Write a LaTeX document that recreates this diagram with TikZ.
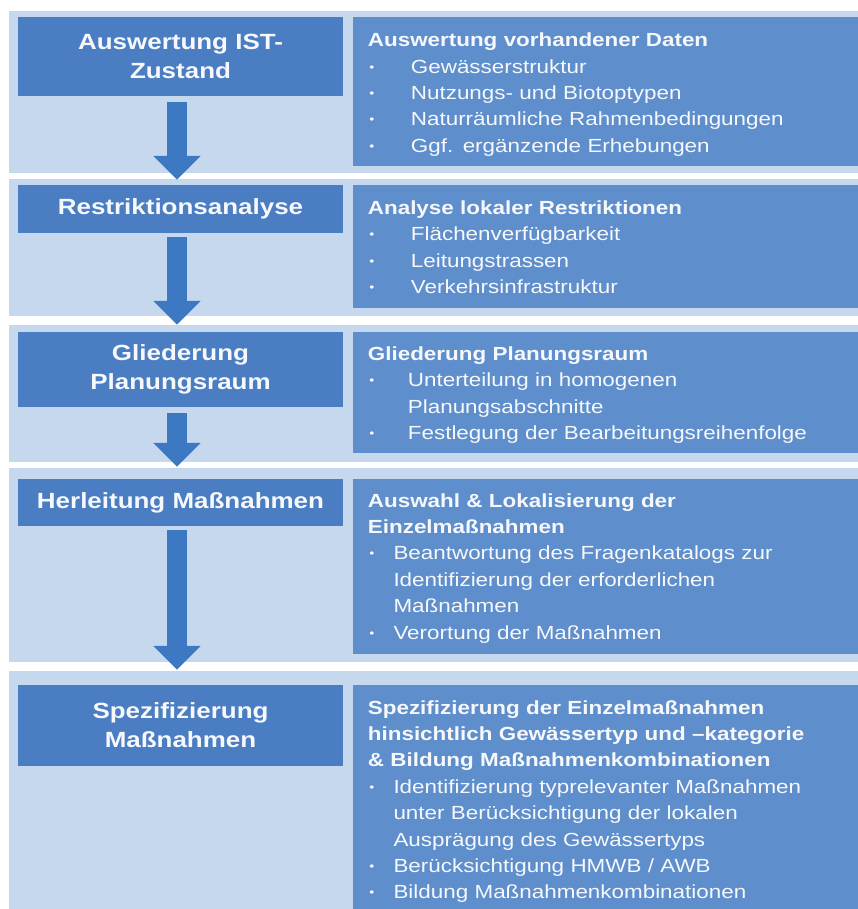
\documentclass[tikz,border=0pt]{standalone}
\usepackage{fontspec}
\setmainfont[FakeStretch=1.18]{Liberation Sans}
\usetikzlibrary{arrows.meta,calc}

\definecolor{bandc}{HTML}{C6D8EE}
\definecolor{lboxc}{HTML}{4A7DC1}
\definecolor{rboxc}{HTML}{5E8ECB}
\definecolor{arrowc}{HTML}{3D79C2}
\definecolor{txtc}{HTML}{F6F8FC}

% bullet and list lines
\newcommand\bul{\raisebox{2pt}{\fontsize{12}{12}\selectfont\char"2022}}
\newcommand\itm[2]{\makebox[#1][l]{\hspace*{1.5pt}\bul}#2}
\newcommand\cont[2]{\hspace*{#1}#2}

\begin{document}
\begin{tikzpicture}[x=1pt,y=-1pt,
  lbox/.style={fill=lboxc, minimum width=325pt, inner sep=0pt, text=txtc,
    align=center, font=\fontsize{22}{29}\selectfont\bfseries},
  rbox/.style={fill=rboxc, anchor=north west, minimum width=505pt, inner sep=0pt},
  rtext/.style={anchor=base west, text width=480pt, align=left, inner sep=0pt,
    text=txtc, font=\fontsize{19}{26.4}\selectfont},
  flow/.style={draw=arrowc, line width=20pt, -{Triangle[length=24pt,width=46pt]}}]

\useasboundingbox (0,0) rectangle (858,909);

% background bands, one per step
\fill[bandc] (9,11) rectangle (858,173);
\fill[bandc] (9,179) rectangle (858,316);
\fill[bandc] (9,325) rectangle (858,462);
\fill[bandc] (9,468) rectangle (858,662);
\fill[bandc] (9,671) rectangle (858,909);

% step boxes on the left
\node[lbox, minimum height=79pt] (l1) at (180.5,56.5) {Auswertung IST-\\Zustand};
\node[lbox, minimum height=48pt] (l2) at (180.5,209) {Restriktionsanalyse};
\node[lbox, minimum height=75pt] (l3) at (180.5,369.5) {Gliederung\\Planungsraum};
\node[lbox, minimum height=47pt] (l4) at (180.5,502.5) {Herleitung Maßnahmen};
\node[lbox, minimum height=81pt] (l5) at (180.5,725.5) {Spezifizierung\\Maßnahmen};

% flow arrows
\coordinate (ax) at (177,0);
\draw[flow, shorten <=6pt, shorten >=5pt] (l1.south -| ax) -- (l2.north -| ax);
\draw[flow, shorten <=4pt, shorten >=7pt] (l2.south -| ax) -- (l3.north -| ax);
\draw[flow, shorten <=6pt, shorten >=12pt] (l3.south -| ax) -- (l4.north -| ax);
\draw[flow, shorten <=4pt, shorten >=15pt] (l4.south -| ax) -- (l5.north -| ax);

% description boxes on the right
\node[rbox, minimum height=149pt] (r1) at (353,17) {};
\node[rbox, minimum height=123pt] (r2) at (353,185) {};
\node[rbox, minimum height=121pt] (r3) at (353,332) {};
\node[rbox, minimum height=175pt] (r4) at (353,479) {};
\node[rbox, minimum height=224pt] (r5) at (353,685) {};

\node[rtext] (t1) at (367.7,46.7) {\textbf{Auswertung vorhandener Daten}\\
  \itm{43pt}{Gewässerstruktur}\\
  \itm{43pt}{Nutzungs- und Biotoptypen}\\
  \itm{43pt}{Naturräumliche Rahmenbedingungen}\\
  \itm{43pt}{Ggf. ergänzende Erhebungen}};

\node[rtext] (t2) at (367.7,214.3) {\textbf{Analyse lokaler Restriktionen}\\
  \itm{43pt}{Flächenverfügbarkeit}\\
  \itm{43pt}{Leitungstrassen}\\
  \itm{43pt}{Verkehrsinfrastruktur}};

\node[rtext] (t3) at (367.7,360.5) {\textbf{Gliederung Planungsraum}\\
  \itm{40pt}{Unterteilung in homogenen}\\
  \cont{40pt}{Planungsabschnitte}\\
  \itm{40pt}{Festlegung der Bearbeitungsreihenfolge}};

\node[rtext] (t4) at (367.7,507) {\textbf{Auswahl \& Lokalisierung der}\\
  \textbf{Einzelmaßnahmen}\\
  \itm{25.6pt}{Beantwortung des Fragenkatalogs zur}\\
  \cont{25.6pt}{Identifizierung der erforderlichen}\\
  \cont{25.6pt}{Maßnahmen}\\
  \itm{25.6pt}{Verortung der Maßnahmen}};

\node[rtext] (t5) at (367.7,714) {\textbf{Spezifizierung der Einzelmaßnahmen}\\
  \textbf{hinsichtlich Gewässertyp und –kategorie}\\
  \textbf{\& Bildung Maßnahmenkombinationen}\\
  \itm{25.6pt}{Identifizierung typrelevanter Maßnahmen}\\
  \cont{25.6pt}{unter Berücksichtigung der lokalen}\\
  \cont{25.6pt}{Ausprägung des Gewässertyps}\\
  \itm{25.6pt}{Berücksichtigung HMWB / AWB}\\
  \itm{25.6pt}{Bildung Maßnahmenkombinationen}};
\end{tikzpicture}
\end{document}
